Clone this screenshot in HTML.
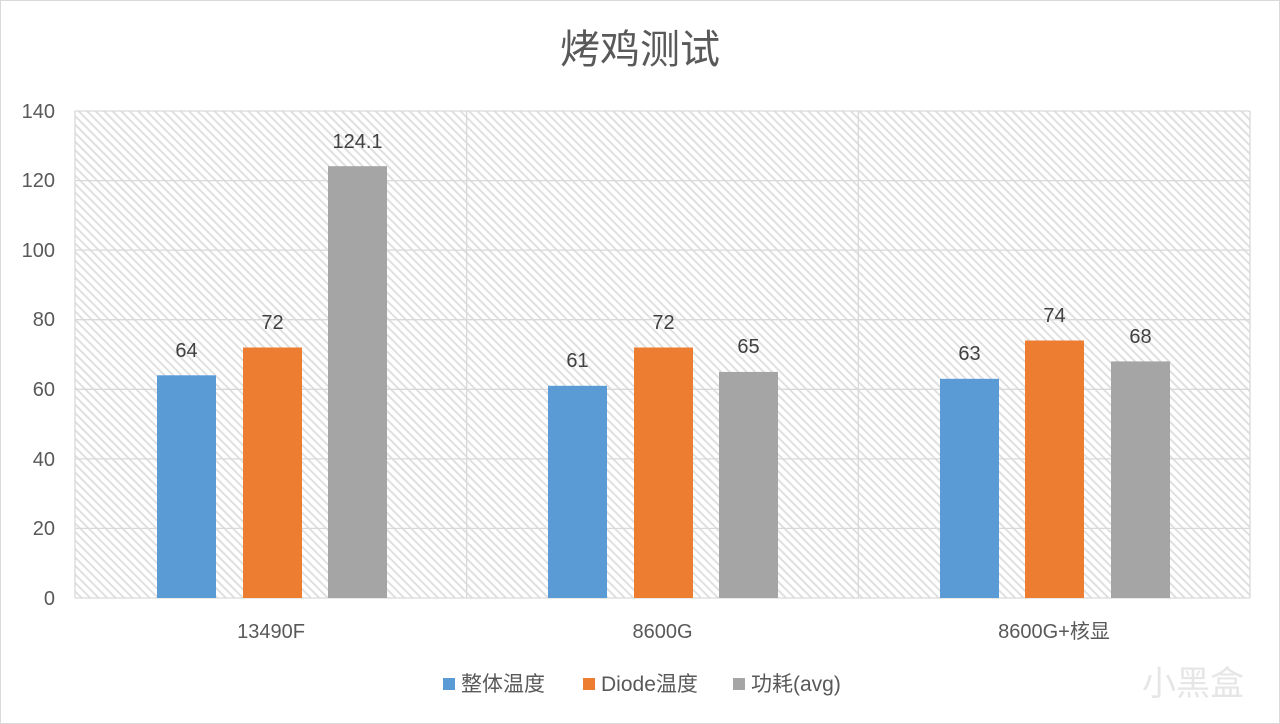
<!DOCTYPE html>
<html><head><meta charset="utf-8"><style>
body{margin:0;background:#fff}
svg{display:block}
text{font-family:"Liberation Sans","Noto Sans CJK SC",sans-serif}
</style></head><body>
<svg width="1280" height="724" viewBox="0 0 1280 724">
<defs>
<pattern id="h" width="6" height="6" patternUnits="userSpaceOnUse" patternTransform="rotate(-45)">
<rect width="6" height="6" fill="#fff"/>
<rect x="0" y="0" width="2" height="6" fill="#e0e0e0"/>
</pattern>
</defs>
<rect x="0.5" y="0.5" width="1279" height="723" fill="#fff" stroke="#d9d9d9"/>
<text x="640" y="63" font-size="40" fill="#595959" text-anchor="middle">烤鸡测试</text>
<rect x="75" y="111" width="1175" height="487" fill="url(#h)"/>
<g stroke="#d9d9d9" stroke-width="1.3">
<line x1="75" y1="111" x2="1250" y2="111"/>
<line x1="75" y1="180.6" x2="1250" y2="180.6"/>
<line x1="75" y1="250.1" x2="1250" y2="250.1"/>
<line x1="75" y1="319.7" x2="1250" y2="319.7"/>
<line x1="75" y1="389.3" x2="1250" y2="389.3"/>
<line x1="75" y1="458.9" x2="1250" y2="458.9"/>
<line x1="75" y1="528.4" x2="1250" y2="528.4"/>
<line x1="75" y1="598" x2="1250" y2="598"/>
<line x1="75" y1="111" x2="75" y2="598"/>
<line x1="466.7" y1="111" x2="466.7" y2="598"/>
<line x1="858.3" y1="111" x2="858.3" y2="598"/>
<line x1="1250" y1="111" x2="1250" y2="598"/>
</g>
<g font-size="20" fill="#595959" text-anchor="end">
<text x="55" y="118">140</text><text x="55" y="187">120</text><text x="55" y="257">100</text>
<text x="55" y="326">80</text><text x="55" y="396">60</text><text x="55" y="466">40</text>
<text x="55" y="535">20</text><text x="55" y="605">0</text>
</g>
<g>
<rect x="157" y="375.3" width="59" height="222.7" fill="#5b9bd5"/>
<rect x="243" y="347.5" width="59" height="250.5" fill="#ed7d31"/>
<rect x="328" y="166.2" width="59" height="431.8" fill="#a5a5a5"/>
<rect x="548" y="385.8" width="59" height="212.2" fill="#5b9bd5"/>
<rect x="634" y="347.5" width="59" height="250.5" fill="#ed7d31"/>
<rect x="719" y="371.9" width="59" height="226.1" fill="#a5a5a5"/>
<rect x="940" y="378.8" width="59" height="219.2" fill="#5b9bd5"/>
<rect x="1025" y="340.5" width="59" height="257.5" fill="#ed7d31"/>
<rect x="1111" y="361.4" width="59" height="236.6" fill="#a5a5a5"/>
</g>
<g font-size="20" fill="#404040" text-anchor="middle">
<text x="186.5" y="357">64</text><text x="272.5" y="329">72</text><text x="357.5" y="148">124.1</text>
<text x="577.5" y="367">61</text><text x="663.5" y="329">72</text><text x="748.5" y="353">65</text>
<text x="969.5" y="360">63</text><text x="1054.5" y="322">74</text><text x="1140.5" y="343">68</text>
</g>
<g font-size="20" fill="#595959" text-anchor="middle">
<text x="271" y="638">13490F</text><text x="662.5" y="638">8600G</text><text x="1054" y="638">8600G+核显</text>
</g>
<g font-size="21" fill="#595959">
<rect x="443" y="678" width="12" height="12" fill="#5b9bd5"/><text x="461" y="691">整体温度</text>
<rect x="583" y="678" width="12" height="12" fill="#ed7d31"/><text x="601" y="691">Diode温度</text>
<rect x="733" y="678" width="12" height="12" fill="#a5a5a5"/><text x="751" y="691">功耗(avg)</text>
</g>
<text x="1142" y="695" font-size="34" fill="#e6e6e6">小黑盒</text>
</svg>
</body></html>
